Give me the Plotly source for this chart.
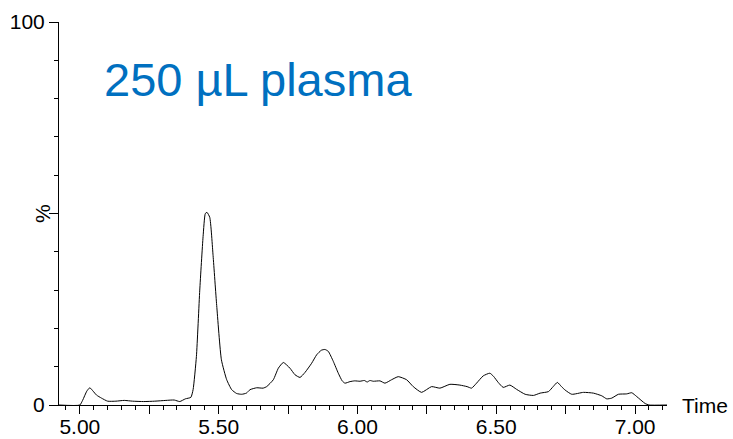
import plotly.graph_objects as go

# Chromatogram trace: retention time (min) vs relative intensity (%)
time_min = [
    4.925, 5.000, 5.010, 5.025, 5.036, 5.048, 5.060, 5.078, 5.100, 5.130,
    5.160, 5.190, 5.230, 5.270, 5.310, 5.340, 5.360, 5.380, 5.400, 5.408,
    5.420, 5.432, 5.444, 5.452, 5.458, 5.468, 5.480, 5.493, 5.510, 5.529,
    5.547, 5.565, 5.583, 5.600, 5.613, 5.637, 5.660, 5.673, 5.697, 5.715,
    5.733, 5.757, 5.775, 5.793, 5.811, 5.835, 5.853, 5.870, 5.883, 5.895,
    5.913, 5.931, 5.945, 5.955, 5.973, 5.990, 6.009, 6.025, 6.035, 6.045,
    6.057, 6.081, 6.099, 6.123, 6.147, 6.177, 6.201, 6.231, 6.267, 6.297,
    6.333, 6.369, 6.395, 6.411, 6.429, 6.453, 6.477, 6.490, 6.507, 6.525,
    6.549, 6.573, 6.604, 6.634, 6.658, 6.688, 6.705, 6.720, 6.735, 6.748,
    6.772, 6.814, 6.850, 6.880, 6.898, 6.916, 6.940, 6.970, 6.988, 7.006,
    7.036, 7.050, 7.115,
]
intensity_pct = [
    0.0, 0.0, 1.2, 3.6, 4.5, 3.6, 2.6, 1.8, 1.0, 1.0,
    1.2, 1.0, 0.9, 1.0, 1.2, 1.3, 0.9, 1.6, 2.0, 4.0,
    12.7, 30.0, 44.0, 50.0, 50.3, 49.0, 39.0, 26.0, 11.8, 6.6,
    4.0, 3.0, 2.8, 3.1, 4.0, 4.5, 4.4, 4.8, 6.6, 9.6,
    11.1, 9.6, 7.9, 7.2, 8.5, 10.9, 13.1, 14.3, 14.5, 14.0,
    11.4, 8.3, 6.3, 5.7, 6.1, 6.3, 6.2, 6.4, 6.0, 6.4,
    6.2, 6.3, 5.7, 6.6, 7.4, 6.6, 4.8, 3.3, 4.8, 4.4,
    5.4, 5.2, 4.8, 4.4, 5.7, 7.6, 8.3, 7.5, 5.9, 4.6,
    5.2, 4.1, 2.8, 2.5, 3.1, 3.5, 4.8, 5.9, 4.8, 3.9,
    2.8, 3.3, 3.1, 2.4, 1.6, 1.8, 2.8, 2.9, 3.2, 2.2,
    0.4, 0.0, 0.0,
]

x_major_ticks = [5.00, 5.25, 5.50, 5.75, 6.00, 6.25, 6.50, 6.75, 7.00]
x_tick_labels = ["5.00", "", "5.50", "", "6.00", "", "6.50", "", "7.00"]
y_major_ticks = [0, 50, 100]
y_tick_labels = ["0", "", "100"]

FONT = "Liberation Sans, Arial, sans-serif"

fig = go.Figure()
fig.add_trace(go.Scatter(
    x=time_min, y=intensity_pct, mode="lines",
    line=dict(color="black", width=1, shape="spline", smoothing=0.5),
    hoverinfo="skip", showlegend=False,
))

fig.update_layout(
    width=733, height=439,
    margin=dict(l=59, r=66, t=22, b=34, autoexpand=False),
    paper_bgcolor="white", plot_bgcolor="white",
    font=dict(family=FONT, size=21, color="black"),
    xaxis=dict(
        range=[4.925, 7.115], showgrid=False, zeroline=False, automargin=False,
        showline=True, linecolor="black", linewidth=1,
        tickmode="array", tickvals=x_major_ticks, ticktext=x_tick_labels,
        ticks="outside", ticklen=8, tickwidth=1, tickcolor="black",
        ticklabelstandoff=-5,
        minor=dict(tickmode="linear", tick0=0, dtick=0.05, ticks="outside",
                   ticklen=4, tickwidth=1, tickcolor="black", showgrid=False),
    ),
    yaxis=dict(
        range=[0, 100], showgrid=False, zeroline=False, automargin=False,
        showline=True, linecolor="black", linewidth=1,
        tickmode="array", tickvals=y_major_ticks, ticktext=y_tick_labels,
        ticks="outside", ticklen=9, tickwidth=1, tickcolor="black",
        minor=dict(tickmode="linear", tick0=0, dtick=10, ticks="outside",
                   ticklen=4, tickwidth=1, tickcolor="black", showgrid=False),
    ),
)

# Sample label
fig.add_annotation(
    text="250 µL plasma", xref="paper", yref="y", x=0.0705, y=85,
    xanchor="left", yanchor="middle", showarrow=False,
    font=dict(family=FONT, size=47, color="#0070C0"),
)
# Axis titles
fig.add_annotation(
    text="Time", xref="paper", yref="paper", x=1, y=0,
    xanchor="left", yanchor="middle", xshift=13, showarrow=False,
    font=dict(family=FONT, size=21, color="black"),
)
fig.add_annotation(
    text="%", xref="paper", yref="y", x=0, y=50, textangle=-90,
    xanchor="center", yanchor="middle", xshift=-16.5, showarrow=False,
    font=dict(family=FONT, size=21, color="black"),
)

fig.write_html("out.html")
